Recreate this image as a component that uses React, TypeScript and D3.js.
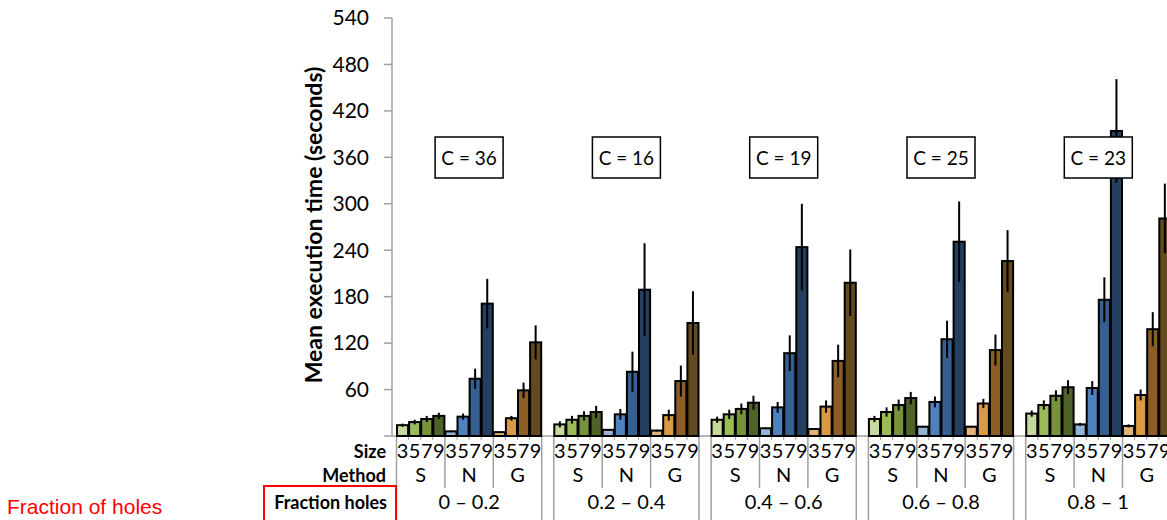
import * as d3 from "d3";
import React from "react";

// Fraction-of-holes groups, methods and puzzle sizes
const fractions = ["0 – 0.2", "0.2 – 0.4", "0.4 – 0.6", "0.6 – 0.8", "0.8 – 1"];
const counts = [36, 16, 19, 25, 23];
const methods = ["S", "N", "G"];
const sizes = ["3", "5", "7", "9"];
const yTicks = [60, 120, 180, 240, 300, 360, 420, 480, 540];

// mean execution time (s), one row per fraction group, one value per size
const meanS = [[14, 18, 22, 26], [15, 21, 26, 31], [21, 28, 35, 43], [22, 31, 40, 49], [29, 40, 52, 63]];
const meanN = [[6, 25, 74, 171], [8, 28, 83, 189], [10, 37, 107, 244], [12, 44, 125, 251], [15, 62, 176, 394]];
const meanG = [[5, 23, 59, 121], [7, 27, 71, 146], [9, 38, 97, 198], [12, 42, 111, 226], [13, 53, 138, 281]];

// error (half length of the error bar)
const errS = [[2, 3, 4, 4], [4, 5, 6, 8], [4, 6, 7, 9], [4, 6, 7, 8], [4, 6, 7, 9]];
const errN = [[1, 4, 13, 32], [1, 7, 26, 60], [1, 7, 23, 56], [1, 7, 24, 52], [2, 9, 29, 67]];
const errG = [[1, 3, 10, 22], [1, 7, 20, 41], [1, 8, 21, 43], [1, 6, 20, 40], [2, 7, 22, 45]];

const colors: Record<string, string[]> = {
  S: ["#c5d99c", "#9bbb59", "#76933c", "#4f6228"],
  N: ["#95b3d7", "#4f81bd", "#376092", "#243f60"],
  G: ["#e3b47a", "#d99a43", "#8c5d25", "#634a1f"],
};

const means: Record<string, number[][]> = { S: meanS, N: meanN, G: meanG };
const errs: Record<string, number[][]> = { S: errS, N: errN, G: errG };

export default function App() {
  const width = 1167;
  const height = 520;
  const baseY = 436;
  const axisX = 392;
  const slot = 12.1;
  const left = 396.5;

  const yScale = d3.scaleLinear().domain([0, 540]).range([baseY, 18]);

  // one slot per bar, one empty slot between fraction groups
  const slotKeys: string[] = [];
  fractions.forEach((f, gi) => {
    if (gi > 0) slotKeys.push(`gap${gi}`);
    methods.forEach(m => sizes.forEach(s => slotKeys.push(`${gi}|${m}|${s}`)));
  });
  const xScale = d3.scaleBand<string>()
    .domain(slotKeys)
    .range([left, left + slotKeys.length * slot]);
  const bw = xScale.bandwidth();

  const bars: { key: string; gi: number; m: string; si: number; v: number; e: number }[] = [];
  fractions.forEach((f, gi) => {
    methods.forEach(m => {
      sizes.forEach((s, si) => {
        bars.push({ key: `${gi}|${m}|${s}`, gi, m, si, v: means[m][gi][si], e: errs[m][gi][si] });
      });
    });
  });

  const groupStart = (gi: number) => xScale(`${gi}|S|3`)!;
  const groupEnd = (gi: number) => xScale(`${gi}|G|9`)! + bw;
  const methodStart = (gi: number, m: string) => xScale(`${gi}|${m}|3`)!;

  const gray = "#a0a0a0";
  const font = "Lato, 'Open Sans', sans-serif";

  return (
    <svg
      width={width}
      height={height}
      style={{ position: "absolute", left: 0, top: 0, background: "#fff", fontFamily: font }}
    >
      {/* y axis */}
      <line x1={axisX} x2={axisX} y1={yScale(540)} y2={baseY} stroke={gray} strokeWidth={1.5} />
      {[0, ...yTicks].map(t => (
        <line key={`t${t}`} x1={axisX - 8} x2={axisX} y1={yScale(t)} y2={yScale(t)} stroke={gray} strokeWidth={1.5} />
      ))}
      {yTicks.map(t => (
        <text key={`l${t}`} x={369} y={yScale(t)} dy="0.35em" textAnchor="end" fontSize={21} fill="#000">
          {t}
        </text>
      ))}
      <text
        transform={`translate(322,225) rotate(-90)`}
        textAnchor="middle"
        fontSize={23}
        fontWeight="bold"
        fill="#000"
      >
        Mean execution time (seconds)
      </text>

      {/* baseline */}
      <line x1={axisX} x2={width + 10} y1={baseY} y2={baseY} stroke={gray} strokeWidth={1.5} />

      {/* category table lines */}
      {fractions.map((f, gi) => (
        <g key={`sep${gi}`}>
          {[groupStart(gi), groupEnd(gi)].map((x, i) => (
            <line key={i} x1={x} x2={x} y1={baseY} y2={height} stroke={gray} strokeWidth={1.5} />
          ))}
          {["N", "G"].map(m => (
            <line key={m} x1={methodStart(gi, m)} x2={methodStart(gi, m)} y1={baseY} y2={488} stroke={gray} strokeWidth={1.5} />
          ))}
          {bars.filter(b => b.gi === gi && b.si > 0).map(b => (
            <line key={b.key} x1={xScale(b.key)!} x2={xScale(b.key)!} y1={baseY} y2={baseY + 4} stroke={gray} strokeWidth={1} />
          ))}
        </g>
      ))}

      {/* bars */}
      {bars.map(b => (
        <rect
          key={b.key}
          x={xScale(b.key)! + 0.5}
          y={yScale(b.v)}
          width={bw - 1}
          height={baseY - yScale(b.v)}
          fill={colors[b.m][b.si]}
          stroke="#000"
          strokeWidth={2}
        />
      ))}
      {/* error bars */}
      {bars.map(b => (
        <line
          key={`e${b.key}`}
          x1={xScale(b.key)! + bw / 2}
          x2={xScale(b.key)! + bw / 2}
          y1={yScale(b.v + b.e)}
          y2={yScale(Math.max(0, b.v - b.e))}
          stroke="#000"
          strokeWidth={2}
        />
      ))}

      {/* count boxes */}
      {fractions.map((f, gi) => {
        const cx = (groupStart(gi) + groupEnd(gi)) / 2;
        return (
          <g key={`c${gi}`}>
            <rect x={cx - 34} y={137} width={68} height={41} fill="#fff" stroke="#000" strokeWidth={1.5} />
            <text x={cx} y={158} dy="0.35em" textAnchor="middle" fontSize={19} fill="#000">
              C = {counts[gi]}
            </text>
          </g>
        );
      })}

      {/* size / method / fraction labels */}
      {bars.map(b => (
        <text key={`s${b.key}`} x={xScale(b.key)! + bw / 2} y={457.5} textAnchor="middle" fontSize={20} fill="#000">
          {sizes[b.si]}
        </text>
      ))}
      {fractions.map((f, gi) => (
        <g key={`m${gi}`}>
          {methods.map(m => (
            <text
              key={m}
              x={methodStart(gi, m) + 2 * bw}
              y={482}
              textAnchor="middle"
              fontSize={20}
              fill="#000"
            >
              {m}
            </text>
          ))}
          <text x={(groupStart(gi) + groupEnd(gi)) / 2} y={509} textAnchor="middle" fontSize={20} fill="#000">
            {f}
          </text>
        </g>
      ))}

      <text x={386} y={457.5} textAnchor="end" fontSize={18} fontWeight="bold" fill="#000">Size</text>
      <text x={386} y={482} textAnchor="end" fontSize={18} fontWeight="bold" fill="#000">Method</text>
      <text x={387} y={508.5} textAnchor="end" fontSize={18} fontWeight="bold" fill="#000">Fraction holes</text>
      <rect x={264} y={486} width={132} height={40} fill="none" stroke="#ff0000" strokeWidth={2} />

      <text x={7} y={514} fontSize={21} fill="#ff0000" fontFamily="'Liberation Sans', Arial, sans-serif">
        Fraction of holes
      </text>
    </svg>
  );
}
